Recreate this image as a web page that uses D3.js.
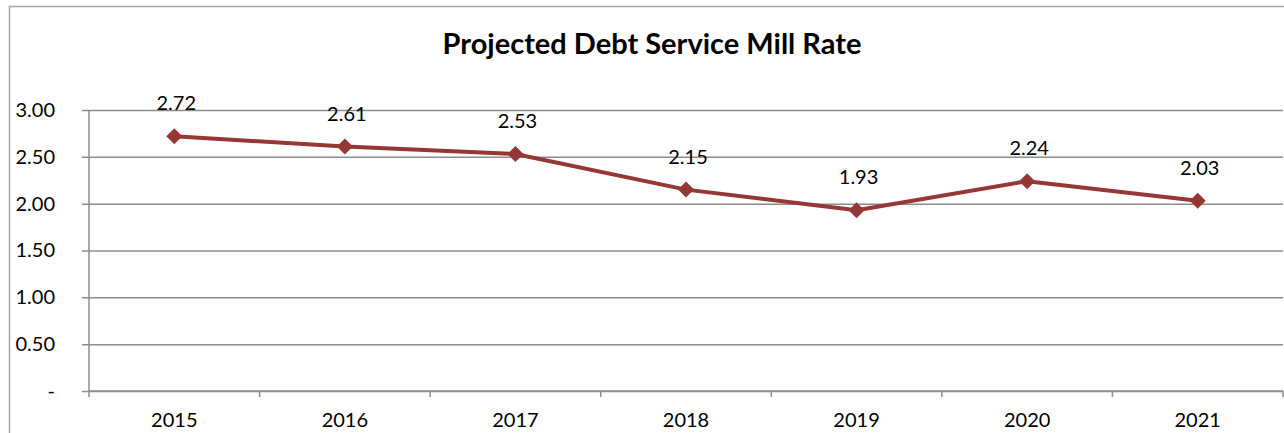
<!DOCTYPE html>
<html>
<head>
<meta charset="utf-8">
<script src="https://cdn.jsdelivr.net/npm/d3@7"></script>
<style>
  body { margin: 0; background: #fff; }
  svg { display: block; font-family: Lato, "Open Sans", sans-serif; }
</style>
</head>
<body>
<svg id="chart" width="1284" height="433"></svg>
<script>
const years = ["2015", "2016", "2017", "2018", "2019", "2020", "2021"];
const millRate = [2.72, 2.61, 2.53, 2.15, 1.93, 2.24, 2.03];
const yTicks = [0, 0.5, 1, 1.5, 2, 2.5, 3];

const width = 1284, height = 433;
const margin = { top: 110, right: 1, bottom: 42, left: 89 };

const svg = d3.select("#chart");

// outer chart frame (runs off the right and bottom edges)
svg.append("rect")
  .attr("x", 9.5).attr("y", 6.5)
  .attr("width", 1300).attr("height", 500)
  .attr("fill", "none").attr("stroke", "#a6a6a6").attr("stroke-width", 1.5);

svg.append("text")
  .attr("x", 652).attr("y", 54)
  .attr("text-anchor", "middle")
  .attr("font-size", 29).attr("font-weight", "bold")
  .text("Projected Debt Service Mill Rate");

const x = d3.scaleBand()
  .domain(years)
  .range([margin.left, width - margin.right]);

const y = d3.scaleLinear()
  .domain([0, 3])
  .range([height - margin.bottom, margin.top]);

// gridlines + y axis
const yAxis = svg.append("g")
  .attr("transform", `translate(${margin.left},0)`)
  .call(d3.axisLeft(y).tickValues(yTicks).tickSize(7).tickPadding(27)
    .tickFormat(d => d === 0 ? "-" : d3.format(".2f")(d)));
yAxis.select(".domain").remove();
yAxis.selectAll(".tick line")
  .attr("x1", -7).attr("x2", width - margin.left - margin.right)
  .attr("stroke", "#8c8c8c").attr("stroke-width", 1.5);
yAxis.selectAll(".tick text")
  .attr("font-size", 20).attr("fill", "#000")
  .attr("font-family", "Lato, sans-serif");

// y axis line
svg.append("line")
  .attr("x1", margin.left).attr("x2", margin.left)
  .attr("y1", y(3)).attr("y2", y(0) + 1)
  .attr("stroke", "#8c8c8c").attr("stroke-width", 1.5);

// x axis with category boundary ticks
const xAxis = svg.append("g")
  .attr("transform", `translate(0,${y(0)})`);
xAxis.append("line")
  .attr("x1", margin.left).attr("x2", width - margin.right)
  .attr("stroke", "#8c8c8c").attr("stroke-width", 1.5);
const bounds = years.map(d => x(d)).concat([x(years[years.length - 1]) + x.bandwidth()]);
xAxis.selectAll(".bound").data(bounds).enter().append("line")
  .attr("x1", d => d).attr("x2", d => d)
  .attr("y1", 0).attr("y2", 6)
  .attr("stroke", "#8c8c8c").attr("stroke-width", 1.5);
xAxis.selectAll(".xlab").data(years).enter().append("text")
  .attr("x", d => x(d) + x.bandwidth() / 2)
  .attr("y", 36)
  .attr("text-anchor", "middle")
  .attr("font-size", 20)
  .text(d => d);

const cx = (d, i) => x(years[i]) + x.bandwidth() / 2;

const line = d3.line()
  .x((d, i) => cx(d, i))
  .y(d => y(d));

svg.append("path")
  .datum(millRate)
  .attr("fill", "none")
  .attr("stroke", "#953735")
  .attr("stroke-width", 4)
  .attr("stroke-linejoin", "round")
  .attr("d", line);

svg.selectAll(".pt").data(millRate).enter().append("path")
  .attr("transform", (d, i) => `translate(${cx(d, i)},${y(d)})`)
  .attr("d", "M0,-8L8,0L0,8L-8,0Z")
  .attr("fill", "#953735");

svg.selectAll(".lbl").data(millRate).enter().append("text")
  .attr("x", (d, i) => cx(d, i) + 2)
  .attr("y", d => y(d) - 26)
  .attr("text-anchor", "middle")
  .attr("font-size", 20)
  .text(d => d3.format(".2f")(d));
</script>
</body>
</html>
